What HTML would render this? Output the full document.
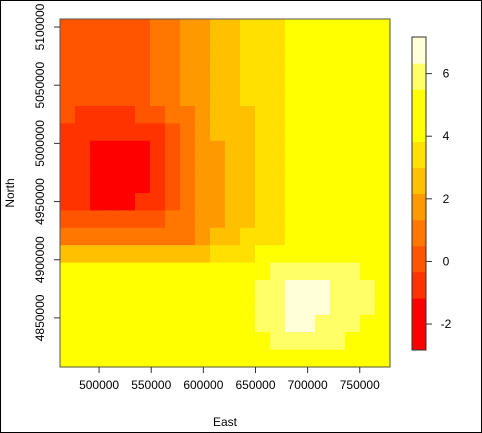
<!DOCTYPE html>
<html><head><meta charset="utf-8"><style>
body{margin:0;background:#fff}
svg{display:block;font-family:"Liberation Sans",sans-serif}
</style></head><body>
<svg width="482" height="433" viewBox="0 0 482 433">
<rect x="0.5" y="0.5" width="481" height="432" fill="#fff" stroke="#000"/>
<g id="cells"></g>
<rect x="60" y="19" width="330" height="348" fill="none" stroke="#555"/>
<g id="axes"></g>
<g id="legend"></g>
<text x="225" y="426" font-size="12" text-anchor="middle">East</text>
<text x="14" y="193" font-size="12" text-anchor="middle" transform="rotate(-90 14 193)">North</text>
</svg>
<script>
const xTicks=[500000,550000,600000,650000,700000,750000];
const yTicks=[4850000,4900000,4950000,5000000,5050000,5100000];
const legendTicks=[-2,0,2,4,6];
const breaks=[-2.83,-1.17,-0.33,0.5,1.33,2.17,3,3.83,5.5,6.33,7.17];
const bandColors=["#FF0000","#FF3300","#FF5500","#FF7700","#FF9900","#FFC000","#FFE000","#FFFF00","#FFFF66","#FFFFD8"];
const Y=4.5;
const gridValues=[
[0.1,0.1,0.1,0.1,0.1,0.1,0.9,0.9,1.7,1.7,2.6,2.6,3.4,3.4,3.4,Y,Y,Y,Y,Y,Y,Y],
[0.1,0.1,0.1,0.1,0.1,0.1,0.9,0.9,1.7,1.7,2.6,2.6,3.4,3.4,3.4,Y,Y,Y,Y,Y,Y,Y],
[0.1,0.1,0.1,0.1,0.1,0.1,0.9,0.9,1.7,1.7,2.6,2.6,3.4,3.4,3.4,Y,Y,Y,Y,Y,Y,Y],
[0.1,0.1,0.1,0.1,0.1,0.1,0.9,0.9,1.7,1.7,2.6,2.6,3.4,3.4,3.4,Y,Y,Y,Y,Y,Y,Y],
[0.1,0.1,0.1,0.1,0.1,0.1,0.9,0.9,1.7,1.7,2.6,2.6,3.4,3.4,3.4,Y,Y,Y,Y,Y,Y,Y],
[0.1,-0.7,-0.7,-0.7,-0.7,0.1,0.1,0.9,0.9,1.7,2.6,2.6,2.6,3.4,3.4,Y,Y,Y,Y,Y,Y,Y],
[-0.7,-0.7,-0.7,-0.7,-0.7,-0.7,-0.7,0.1,0.9,1.7,2.6,2.6,2.6,3.4,3.4,Y,Y,Y,Y,Y,Y,Y],
[-0.7,-0.7,-2,-2,-2,-2,-0.7,0.1,0.9,1.7,1.7,2.6,2.6,3.4,3.4,Y,Y,Y,Y,Y,Y,Y],
[-0.7,-0.7,-2,-2,-2,-2,-0.7,0.1,0.9,1.7,1.7,2.6,2.6,3.4,3.4,Y,Y,Y,Y,Y,Y,Y],
[-0.7,-0.7,-2,-2,-2,-2,-0.7,0.1,0.9,1.7,1.7,2.6,2.6,3.4,3.4,Y,Y,Y,Y,Y,Y,Y],
[-0.7,-0.7,-2,-2,-2,-0.7,-0.7,0.1,0.9,1.7,1.7,2.6,2.6,3.4,3.4,Y,Y,Y,Y,Y,Y,Y],
[0.1,0.1,0.1,0.1,0.1,0.1,0.1,0.9,0.9,1.7,1.7,2.6,2.6,3.4,3.4,Y,Y,Y,Y,Y,Y,Y],
[0.9,0.9,0.9,0.9,0.9,0.9,0.9,0.9,0.9,1.7,2.6,2.6,3.4,3.4,3.4,Y,Y,Y,Y,Y,Y,Y],
[2.6,2.6,2.6,2.6,2.6,2.6,2.6,2.6,2.6,2.6,3.4,3.4,3.4,Y,Y,Y,Y,Y,Y,Y,Y,Y],
[Y,Y,Y,Y,Y,Y,Y,Y,Y,Y,Y,Y,Y,Y,6,6,6,6,6,6,Y,Y],
[Y,Y,Y,Y,Y,Y,Y,Y,Y,Y,Y,Y,Y,6,6,6.8,6.8,6.8,6,6,6,Y],
[Y,Y,Y,Y,Y,Y,Y,Y,Y,Y,Y,Y,Y,6,6,6.8,6.8,6.8,6,6,6,Y],
[Y,Y,Y,Y,Y,Y,Y,Y,Y,Y,Y,Y,Y,6,6,6.8,6.8,6,6,6,Y,Y],
[Y,Y,Y,Y,Y,Y,Y,Y,Y,Y,Y,Y,Y,Y,6,6,6,6,6,Y,Y,Y],
[Y,Y,Y,Y,Y,Y,Y,Y,Y,Y,Y,Y,Y,Y,Y,Y,Y,Y,Y,Y,Y,Y]
];
const NS="http://www.w3.org/2000/svg";
const PX0=60,PX1=390,PY0=19,PY1=367;
const XMIN=462500,XMAX=779000,YMIN=4807800,YMAX=5106900;
const xs=v=>PX0+(v-XMIN)/(XMAX-XMIN)*(PX1-PX0);
const ys=v=>PY1-(v-YMIN)/(YMAX-YMIN)*(PY1-PY0);
const LY0=37,LY1=350,LMIN=-2.83,LMAX=7.17;
const ls=v=>LY1-(v-LMIN)/(LMAX-LMIN)*(LY1-LY0);
function colorFor(v){for(let i=0;i<bandColors.length;i++){if(v<=breaks[i+1])return bandColors[i];}return bandColors[bandColors.length-1];}
function mk(t,a){const e=document.createElementNS(NS,t);for(const k in a)e.setAttribute(k,a[k]);return e;}
const cells=document.getElementById('cells');
const nr=gridValues.length,nc=gridValues[0].length;
const cw=(PX1-PX0)/nc,ch=(PY1-PY0)/nr;
gridValues.forEach((row,j)=>row.forEach((v,i)=>{
  const r=mk('rect',{x:PX0+i*cw,y:PY0+j*ch,width:cw+0.6,height:ch+0.6,fill:colorFor(v)});
  
  
  cells.appendChild(r);
}));
const axes=document.getElementById('axes');
xTicks.forEach(t=>{
  const x=xs(t);
  const l=mk('line',{x1:x,x2:x,y1:PY1,y2:PY1+6,stroke:'#333'});
  
  
  axes.appendChild(l);
  const tx=mk('text',{x:x,y:PY1+22,'font-size':12,'text-anchor':'middle'});
  tx.textContent=t;
  
  
  axes.appendChild(tx);
});
yTicks.forEach(t=>{
  const y=ys(t);
  const l=mk('line',{x1:PX0-6,x2:PX0,y1:y,y2:y,stroke:'#333'});
  
  
  axes.appendChild(l);
  const tx=mk('text',{x:44,y:y,'font-size':12,'text-anchor':'middle',transform:`rotate(-90 44 ${y})`});
  tx.textContent=t;
  
  
  axes.appendChild(tx);
});
const lg=document.getElementById('legend');
for(let i=0;i<bandColors.length;i++){
  const y0=ls(breaks[i+1]),y1=ls(breaks[i]);
  const r=mk('rect',{x:412,y:y0,width:14,height:y1-y0+0.5,fill:bandColors[i]});
  
  
  lg.appendChild(r);
}
const lb=mk('rect',{x:412,y:LY0,width:14,height:LY1-LY0,fill:'none',stroke:'#333'});


lg.appendChild(lb);
legendTicks.forEach(t=>{
  const y=ls(t);
  const l=mk('line',{x1:426,x2:432,y1:y,y2:y,stroke:'#333'});
  
  
  lg.appendChild(l);
  const tx=mk('text',{x:446,y:y+4,'font-size':12,'text-anchor':'middle'});
  tx.textContent=t;
  
  
  lg.appendChild(tx);
});
</script>
</body></html>
